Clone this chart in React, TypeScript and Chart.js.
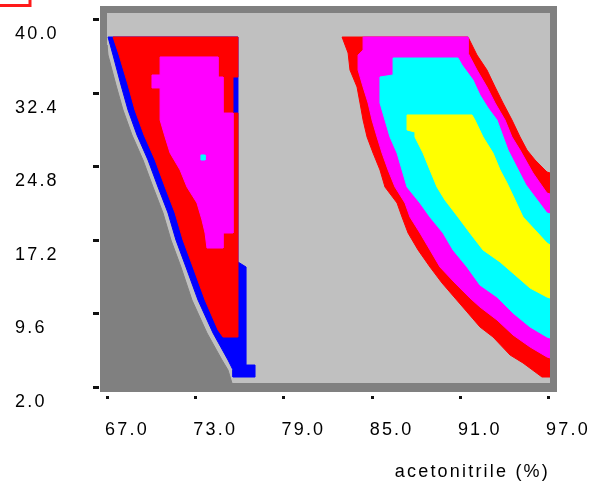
import { useEffect, useRef } from 'react';
import { Chart, registerables } from 'chart.js';

Chart.register(...registerables);

type Pt = [number, number];

// Axis values
const xTickValues = [67, 73, 79, 85, 91, 97];
const yTickValues = [2.0, 9.6, 17.2, 24.8, 32.4, 40.0];
const xAxisTitle = 'acetonitrile (%)';
const xRange = [67, 97.136];
const yRange = [2.413, 40.62];

// Region boundaries (acetonitrile %, y value)
const darkRegion: Pt[] = [
  [67.0, 37.32], [67.07, 36.28], [67.61, 33.19], [68.09, 30.6], [68.7, 28.02], [69.45, 25.44],
  [70.13, 22.65], [70.81, 19.97], [71.35, 17.18], [72.03, 14.39], [72.78, 10.98], [73.8, 7.58],
  [74.82, 4.79], [75.23, 3.76], [75.5, 2.413], [67.0, 2.413],
];

const leftBlue: Pt[] = [
  [67.07, 38.14], [67.41, 36.28], [67.95, 33.19], [68.43, 30.6], [69.04, 28.02], [69.79, 25.44],
  [70.47, 22.65], [71.15, 19.97], [71.69, 17.18], [72.37, 14.39], [73.19, 10.98], [74.21, 7.58],
  [75.23, 4.79], [75.57, 3.76], [75.57, 3.03], [77.07, 3.03], [77.07, 4.27], [76.52, 4.27],
  [76.46, 14.39], [75.91, 14.91], [75.91, 38.14],
];

const leftRed: Pt[] = [
  [67.41, 38.14], [67.82, 36.28], [68.43, 33.19], [68.9, 30.6], [69.52, 28.02], [70.27, 25.44],
  [70.95, 22.65], [71.63, 19.97], [72.17, 17.18], [72.85, 14.39], [73.67, 10.98], [74.55, 7.89],
  [74.89, 7.16], [75.91, 7.16], [75.91, 30.29], [75.57, 30.29], [75.57, 34.01], [75.91, 34.01],
  [75.91, 38.14],
];

const leftMagenta: Pt[] = [
  [70.61, 36.08], [74.55, 36.08], [74.55, 34.01], [74.89, 34.01], [74.89, 30.29], [75.57, 30.29],
  [75.57, 17.9], [74.89, 17.9], [74.89, 16.35], [73.8, 16.35], [73.67, 17.9], [73.46, 19.25],
  [73.12, 21.0], [72.44, 22.65], [71.97, 24.41], [71.29, 26.16], [70.95, 27.82], [70.61, 29.57],
  [70.61, 32.88], [70.06, 32.88], [70.06, 34.22], [70.61, 34.22],
];

const leftCyan: Pt[] = [
  [73.39, 25.96], [73.67, 25.96], [73.67, 25.44], [73.39, 25.44],
];

const rightRed: Pt[] = [
  [82.99, 38.14], [91.56, 38.14], [91.83, 37.32], [92.17, 36.28], [92.85, 34.73], [93.4, 32.98],
  [93.94, 31.33], [94.55, 29.57], [95.1, 27.82], [95.57, 26.47], [96.12, 25.44], [96.93, 24.2],
  [97.14, 24.1], [97.14, 3.03], [96.59, 3.03], [95.3, 4.48], [94.42, 5.3], [93.26, 7.16],
  [92.37, 8.2], [91.49, 9.75], [90.67, 11.19], [89.79, 12.74], [88.97, 14.39], [88.16, 16.15],
  [87.48, 17.9], [87.07, 19.55], [86.73, 21.0], [85.91, 22.65], [85.57, 24.41], [85.1, 26.16],
  [84.69, 27.82], [84.42, 29.57], [84.21, 31.33], [84.01, 32.98], [83.53, 34.73], [83.4, 36.49],
];

const rightMagenta: Pt[] = [
  [84.42, 38.14], [91.56, 38.14], [91.56, 36.49], [92.17, 34.73], [92.85, 32.98], [93.4, 31.33],
  [94.08, 29.57], [94.55, 27.82], [95.1, 26.47], [95.98, 24.1], [96.93, 22.03], [97.14, 21.93],
  [97.14, 5.0], [96.93, 5.1], [95.78, 6.13], [94.62, 7.37], [93.53, 8.92], [92.37, 10.26],
  [91.69, 11.19], [90.67, 12.74], [89.65, 14.39], [88.97, 16.15], [88.29, 17.9], [87.61, 19.55],
  [87.27, 21.0], [86.59, 22.65], [86.12, 24.41], [85.71, 26.16], [85.37, 27.82], [85.03, 29.57],
  [84.76, 31.33], [84.42, 32.98], [84.08, 34.73], [84.08, 36.28], [84.42, 36.8],
];

const rightCyan: Pt[] = [
  [86.46, 35.97], [90.88, 35.97], [91.15, 35.25], [91.9, 33.7], [92.37, 32.15], [92.92, 30.81],
  [93.53, 29.57], [94.28, 26.47], [95.5, 22.86], [96.93, 19.97], [97.14, 19.87], [97.14, 7.06],
  [96.93, 7.16], [95.78, 8.2], [94.62, 9.64], [93.53, 11.29], [92.37, 12.53], [91.49, 14.39],
  [90.54, 16.15], [89.86, 17.9], [88.97, 19.55], [88.29, 21.0], [87.41, 22.65], [87.07, 24.41],
  [86.73, 26.16], [86.25, 27.82], [85.91, 29.57], [85.57, 31.33], [85.57, 34.01], [86.46, 34.22],
];

const rightYellow: Pt[] = [
  [87.41, 30.09], [91.83, 30.09], [92.03, 29.57], [92.58, 27.82], [93.26, 26.16], [93.74, 24.41],
  [94.21, 23.07], [94.76, 21.31], [95.3, 19.55], [96.12, 18.21], [96.93, 16.87], [97.14, 16.66],
  [97.14, 11.19], [96.93, 11.29], [95.78, 12.22], [94.76, 13.57], [93.74, 14.91], [92.58, 16.15],
  [91.69, 17.9], [90.88, 19.55], [89.99, 21.31], [89.45, 22.65], [88.97, 24.41], [88.5, 26.16],
  [87.95, 27.82], [87.95, 28.33], [87.41, 28.54],
];

const FONT = '"Liberation Sans", Arial, sans-serif';
const TEXT = '#000000';

const layers: { pts: Pt[]; color: string }[] = [
  { pts: darkRegion, color: '#808080' },
  { pts: leftBlue, color: '#0000ff' },
  { pts: leftRed, color: '#ff0000' },
  { pts: leftMagenta, color: '#ff00ff' },
  { pts: leftCyan, color: '#00ffff' },
  { pts: rightRed, color: '#ff0000' },
  { pts: rightMagenta, color: '#ff00ff' },
  { pts: rightCyan, color: '#00ffff' },
  { pts: rightYellow, color: '#ffff00' },
];

const framePlugin = {
  id: 'framePlugin',
  beforeDraw(chart: any) {
    const { ctx, chartArea: a } = chart;
    ctx.save();
    ctx.fillStyle = '#808080';
    ctx.fillRect(a.left - 7, a.top - 7, a.right - a.left + 14, a.bottom - a.top + 16);
    ctx.fillStyle = '#c0c0c0';
    ctx.fillRect(a.left, a.top, a.right - a.left, a.bottom - a.top);
    ctx.strokeStyle = '#ff1a1a';
    ctx.lineWidth = 3;
    ctx.strokeRect(-10, -10, 40, 15.5);
    ctx.restore();
    ctx.letterSpacing = '2.2px';
  },
  afterDraw(chart: any) {
    const { ctx, chartArea: a, scales } = chart;
    ctx.save();
    ctx.fillStyle = '#111';
    yTickValues.forEach((v) => {
      const y = Math.round(scales.y.getPixelForValue(v));
      ctx.fillRect(a.left - 14, y - 1, 6, 3);
    });
    xTickValues.forEach((v) => {
      const x = Math.round(scales.x.getPixelForValue(v));
      ctx.fillRect(x - 1, a.bottom + 13, 3, 3);
    });
    ctx.restore();
  },
};

export default function App() {
  const ref = useRef<HTMLCanvasElement | null>(null);

  useEffect(() => {
    if (!ref.current) return;
    const datasets = layers.map((l, i) => ({
      data: [...l.pts, l.pts[0]].map(([x, y]) => ({ x, y })),
      backgroundColor: l.color,
      borderColor: l.color,
      borderWidth: 1,
      pointRadius: 0,
      pointHoverRadius: 0,
      fill: 'shape',
      tension: 0,
      order: layers.length - i,
    }));

    const chart = new Chart(ref.current, {
      type: 'line',
      data: { datasets } as any,
      plugins: [framePlugin],
      options: {
        responsive: false,
        animation: false,
        devicePixelRatio: 1,
        events: [],
        layout: { padding: { left: 15, right: 45, top: 13, bottom: 0 } },
        plugins: { legend: { display: false }, tooltip: { enabled: false } },
        scales: {
          x: {
            type: 'linear',
            min: xRange[0],
            max: xRange[1],
            afterBuildTicks: (s: any) => {
              s.ticks = xTickValues.map((v) => ({ value: v }));
            },
            afterFit: (s: any) => {
              s.height = 103;
              s.paddingLeft = 0;
              s.paddingRight = 0;
            },
            grid: { display: false, drawTicks: false },
            border: { display: false },
            ticks: {
              autoSkip: false,
              maxRotation: 0,
              minRotation: 0,
              padding: 36,
              labelOffset: 20,
              color: TEXT,
              font: { family: FONT, size: 18 },
              callback: (v: any) => Number(v).toFixed(1),
            },
            title: {
              display: true,
              text: xAxisTitle,
              align: 'end',
              color: TEXT,
              font: { family: FONT, size: 18 },
              padding: { top: 0, bottom: 3 },
            },
          },
          y: {
            type: 'linear',
            min: yRange[0],
            max: yRange[1],
            afterBuildTicks: (s: any) => {
              s.ticks = yTickValues.map((v) => ({ value: v }));
            },
            afterFit: (s: any) => {
              s.width = 92;
              s.paddingTop = 0;
              s.paddingBottom = 0;
            },
            grid: { display: false, drawTicks: false },
            border: { display: false },
            ticks: {
              autoSkip: false,
              crossAlign: 'far',
              padding: 0,
              labelOffset: 15,
              color: TEXT,
              font: { family: FONT, size: 18 },
              callback: (v: any) => Number(v).toFixed(1),
            },
          },
        },
      } as any,
    });
    return () => chart.destroy();
  }, []);

  return (
    <div
      style={{
        position: 'absolute',
        left: 0,
        top: 0,
        width: 595,
        height: 486,
        overflow: 'hidden',
        background: '#fff',
      }}
    >
      <canvas ref={ref} width={595} height={486} style={{ display: 'block' }} />
    </div>
  );
}
